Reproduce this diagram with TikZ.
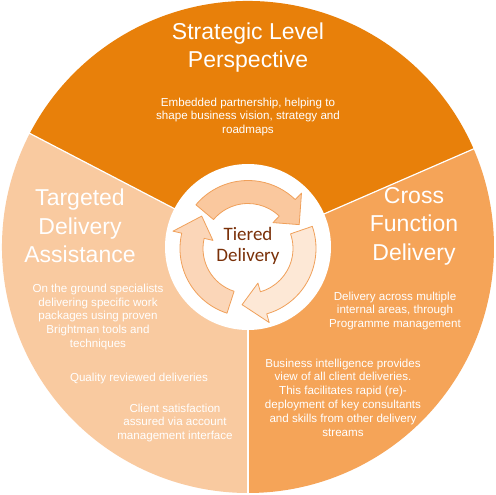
\documentclass[tikz,border=0pt]{standalone}
\usepackage{fontspec}
\setmainfont{Liberation Sans}
\newfontfamily\tierfont{Carlito}
\definecolor{topc}{RGB}{232,128,10}
\definecolor{rightc}{RGB}{245,164,88}
\definecolor{leftc}{RGB}{249,202,160}
\definecolor{arrline}{RGB}{240,160,90}
\definecolor{arrA}{RGB}{250,200,158}
\definecolor{arrB}{RGB}{253,232,214}
\definecolor{arrC}{RGB}{251,214,184}
\definecolor{tierc}{RGB}{122,48,8}
\tikzset{
  titletext/.style={text=white, align=center, font=\fontsize{23}{28.5}\selectfont, inner sep=0pt},
  desctext/.style={text=white, align=center, font=\fontsize{11.6}{13.8}\selectfont, inner sep=0pt},
  divider/.style={draw=white, line width=1.2pt},
  cyc/.style={draw=arrline, line width=0.8pt, line join=round},
}
% #1 fill, #2 tail angle, #3 head base angle, #4 tip angle
\newcommand{\cyclearrow}[4]{%
  \filldraw[cyc, fill=#1] (#2:68) arc[start angle=#2, end angle=#3, radius=68]
    -- (#3:77) -- (#4:56.5) -- (#3:36) -- (#3:45)
    arc[start angle=#3, end angle=#2, radius=45] -- cycle;}
\begin{document}
\begin{tikzpicture}[x=1pt,y=1pt]
\useasboundingbox (0,0) rectangle (495,495);
\fill[white] (0,0) rectangle (495,495);
\coordinate (C) at (248,248);
\begin{scope}[shift={(248,248)}]
  \fill[topc] (0,0) -- (23.5:246) arc[start angle=23.5, end angle=152.5, radius=246] -- cycle;
  \fill[leftc] (0,0) -- (152.5:246) arc[start angle=152.5, end angle=270, radius=246] -- cycle;
  \fill[rightc] (0,0) -- (-90:246) arc[start angle=-90, end angle=23.5, radius=246] -- cycle;
  \draw[divider] (23.5:80) -- (23.5:247);
  \draw[divider] (152.5:80) -- (152.5:247);
  \draw[divider] (270:80) -- (270:247);
  \fill[white] (0,0) circle[radius=83];
\end{scope}
\begin{scope}[shift={(248,246.5)}]
  \cyclearrow{arrA}{140}{46}{25}
  \cyclearrow{arrB}{19}{-74}{-96}
  \cyclearrow{arrC}{-108}{-193}{-215}
\end{scope}
\node[text=tierc, align=center, inner sep=0pt, font=\tierfont\fontsize{19}{21}\selectfont] (tier) at (248,249) {Tiered\\Delivery};

\node[titletext] (t1) at (248,447.5) {Strategic Level\\Perspective};
\node[desctext] (d1) at (248,378) {Embedded partnership, helping to\\shape business vision, strategy and\\roadmaps};

\node[titletext] (t2) at (80,269) {Targeted\\Delivery\\Assistance};
\node[desctext] (d2) at (98,178) {On the ground specialists\\delivering specific work\\packages using proven\\Brightman tools and\\techniques};
\node[desctext] (d3) at (139,116) {Quality reviewed deliveries};
\node[desctext] (d4) at (175,72) {Client satisfaction\\assured via account\\management interface};

\node[titletext] (t3) at (414,269) {Cross\\Function\\Delivery};
\node[desctext] (d5) at (395,184) {Delivery across multiple\\internal areas, through\\Programme management};
\node[desctext] (d6) at (343,97.5) {Business intelligence provides\\view of all client deliveries.\\This facilitates rapid (re)-\\deployment of key consultants\\and skills from other delivery\\streams};
\end{tikzpicture}
\end{document}
